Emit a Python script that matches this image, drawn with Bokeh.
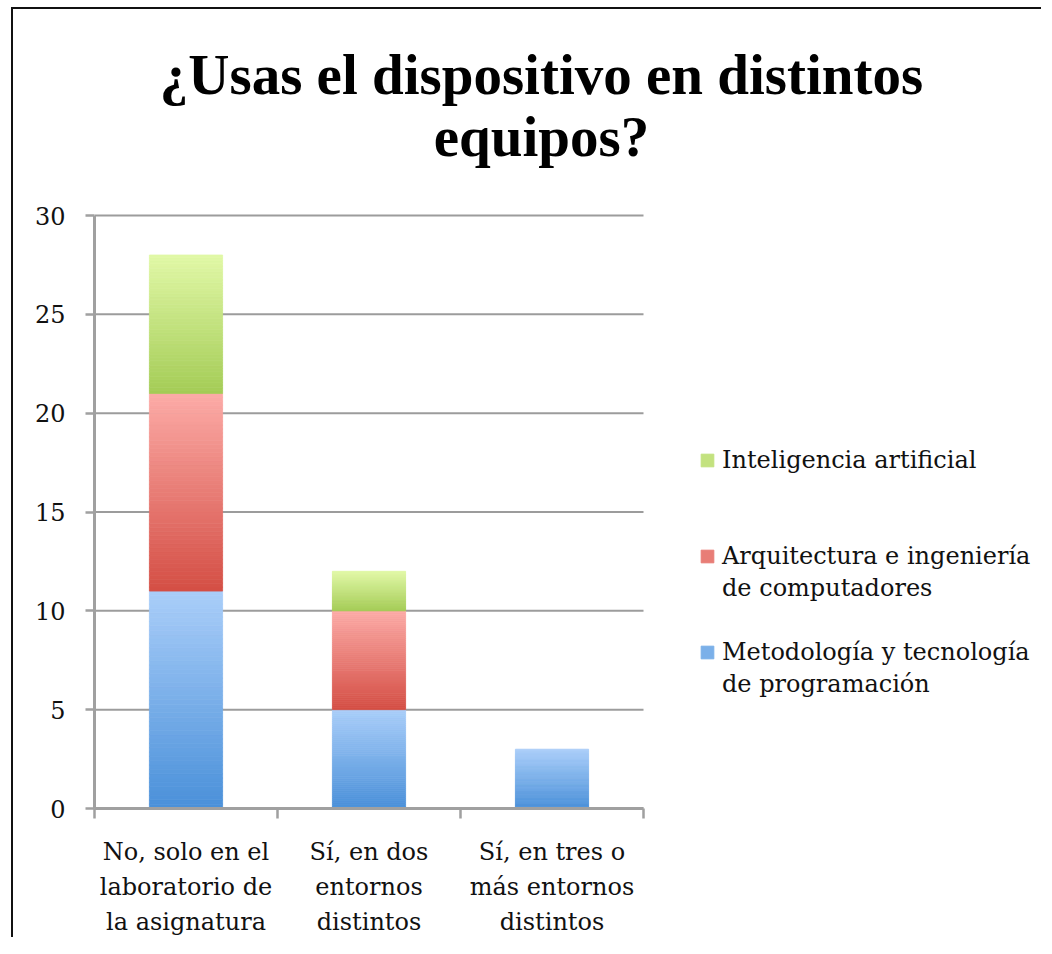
from bokeh.plotting import figure
from bokeh.models import (ColumnDataSource, Range1d, FixedTicker, Label,
                          Legend, LegendItem)
from bokeh.embed import file_html
from bokeh.resources import INLINE

# ---------------- data ----------------
categories = ["No, solo en el\nlaboratorio de\nla asignatura",
              "Sí, en dos\nentornos\ndistintos",
              "Sí, en tres o\nmás entornos\ndistintos"]
series_names = [["Metodología y tecnología", "de programación"],
                ["Arquitectura e ingeniería", "de computadores"],
                ["Inteligencia artificial"]]
metodologia = [11, 5, 3]
arquitectura = [10, 5, 0]
inteligencia = [7, 2, 0]
y_ticks = [0, 5, 10, 15, 20, 25, 30]
title_lines = ["¿Usas el dispositivo en distintos", "equipos?"]

# ---------------- style / layout ----------------
BODY_FONT = "DejaVu Serif"
TITLE_FONT = "Liberation Serif"
AXIS_GRAY = "#a0a0a0"
GRID_GRAY = "#9c9c9c"
BAR_W = 0.4
N_SLICES = 50
GRADIENTS = [((74, 144, 217), (170, 206, 249)),   # blue  (bottom, top)
             ((212, 78, 68), (252, 171, 167)),    # red
             ((164, 204, 86), (225, 248, 167))]   # green

W, H = 1030, 930
BORDER_L, BORDER_B = 81, 131
PLOT_W_PX, PLOT_H_PX = 549, 593          # pixel size of the bar area
FRAME_W, FRAME_H = W - BORDER_L, H - BORDER_B
n_cat = len(categories)
y_max = y_ticks[-1]
x_end = n_cat * FRAME_W / PLOT_W_PX
y_end = y_max * FRAME_H / PLOT_H_PX

def mix(c0, c1, t):
    return "#%02x%02x%02x" % tuple(int(round(a + (b - a) * t)) for a, b in zip(c0, c1))

p = figure(width=W, height=H, x_range=Range1d(0, x_end), y_range=Range1d(0, y_end),
           output_backend="svg", toolbar_location=None, title=None,
           min_border_left=BORDER_L, min_border_right=0,
           min_border_top=0, min_border_bottom=BORDER_B)
p.styles = {"border-top": "2px solid #111", "border-left": "2px solid #111",
            "margin-left": "11px", "margin-top": "7px"}
p.outline_line_color = None
p.background_fill_color = "white"
p.border_fill_color = "white"
p.xgrid.visible = False
p.ygrid.visible = False

# horizontal gridlines over the bar area only
p.segment(x0=[0] * len(y_ticks), x1=[n_cat] * len(y_ticks), y0=y_ticks, y1=y_ticks,
          line_color=GRID_GRAY, line_width=2)

# y axis
p.yaxis.ticker = FixedTicker(ticks=y_ticks)
p.yaxis.bounds = (y_ticks[0], y_max)
p.yaxis.axis_line_color = AXIS_GRAY
p.yaxis.axis_line_width = 3
p.yaxis.major_tick_line_color = AXIS_GRAY
p.yaxis.major_tick_line_width = 2.5
p.yaxis.major_tick_out = 9
p.yaxis.major_tick_in = 0
p.yaxis.minor_tick_line_color = None
p.yaxis.major_label_standoff = 20
p.yaxis.major_label_text_font = BODY_FONT
p.yaxis.major_label_text_font_size = "24px"
p.yaxis.major_label_text_color = "#111111"

# x axis: labels at centres, ticks at category boundaries
centres = [i + 0.5 for i in range(n_cat)]
bounds = [float(i) for i in range(n_cat + 1)]
p.xaxis.ticker = FixedTicker(ticks=centres, minor_ticks=bounds)
p.xaxis.bounds = (0, n_cat)
p.xaxis.major_label_overrides = {c: lab for c, lab in zip(centres, categories)}
p.xaxis.axis_line_color = AXIS_GRAY
p.xaxis.axis_line_width = 3
p.xaxis.major_tick_line_color = None
p.xaxis.major_tick_out = 10
p.xaxis.major_tick_in = 0
p.xaxis.minor_tick_line_color = AXIS_GRAY
p.xaxis.minor_tick_line_width = 2.5
p.xaxis.minor_tick_out = 10
p.xaxis.minor_tick_in = 0
p.xaxis.major_label_standoff = 19
p.xaxis.major_label_text_font = BODY_FONT
p.xaxis.major_label_text_font_size = "24px"
p.xaxis.major_label_text_line_height = 1.25
p.xaxis.major_label_text_color = "#111111"

# stacked gradient bars
all_series = [metodologia, arquitectura, inteligencia]
base = [0.0] * n_cat
renderers = []
legend_idx = []
for s, vals in enumerate(all_series):
    c_bot, c_top = GRADIENTS[s]
    L, R, B, T, C = [], [], [], [], []
    mid_index = None
    for i, v in enumerate(vals):
        if v <= 0:
            continue
        for k in range(N_SLICES):
            y0 = base[i] + v * k / N_SLICES
            y1 = base[i] + v * (k + 1) / N_SLICES
            if mid_index is None and k == N_SLICES // 2:
                mid_index = len(L)
            L.append(centres[i] - BAR_W / 2)
            R.append(centres[i] + BAR_W / 2)
            B.append(y0)
            T.append(y1)
            C.append(mix(c_bot, c_top, (k + 0.5) / N_SLICES))
        base[i] += v
    src = ColumnDataSource(dict(left=L, right=R, bottom=B, top=T, color=C))
    r = p.quad(left="left", right="right", bottom="bottom", top="top", source=src,
               fill_color="color", line_color="color", line_width=0.8)
    renderers.append(r)
    legend_idx.append(mid_index or 0)

# invisible renderer used for legend rows that carry no swatch
blank = p.quad(left=[], right=[], bottom=[], top=[], fill_alpha=0, line_alpha=0)

# legend rows of equal height
rows = [(series_names[2][0], renderers[2], legend_idx[2]),
        (" ", blank, None), (" ", blank, None),
        (series_names[1][0], renderers[1], legend_idx[1]),
        (series_names[1][1], blank, None),
        (" ", blank, None),
        (series_names[0][0], renderers[0], legend_idx[0]),
        (series_names[0][1], blank, None)]
items = [LegendItem(label=t, renderers=[r], index=ix) for t, r, ix in rows]
legend = Legend(items=items, location=(605, 110), orientation="vertical",
                border_line_color=None, background_fill_alpha=0,
                padding=0, margin=0, spacing=3, label_height=29,
                glyph_width=16, glyph_height=16, label_standoff=7,
                label_text_font=BODY_FONT, label_text_font_size="24px",
                label_text_color="#111111")
p.add_layout(legend, "center")

# title (two centred lines)
for txt, yy in zip(title_lines, [734, 672]):
    p.add_layout(Label(x=447, y=yy, x_units="screen", y_units="screen", text=txt,
                       text_font=TITLE_FONT, text_font_size="57px",
                       text_font_style="bold", text_color="#000000",
                       text_baseline="alphabetic", text_align="center"))

open("out.html", "w").write(file_html(p, INLINE))
